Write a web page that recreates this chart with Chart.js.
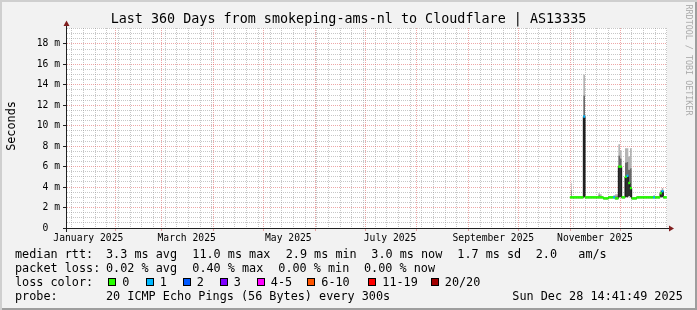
<!DOCTYPE html>
<html>
<head>
<meta charset="utf-8">
<script src="https://cdn.jsdelivr.net/npm/chart.js@4.4.0/dist/chart.umd.min.js"></script>
<style>
  html, body { margin: 0; padding: 0; background: #f2f2f2; }
  #graph { position: relative; width: 697px; height: 310px; background: #f2f2f2; overflow: hidden;
           box-shadow: inset 2px 2px 0 #cfcfcf, inset -2px -2px 0 #9e9e9e;
           font-family: 'DejaVu Sans Mono', monospace; color: #000; }
  #graph canvas { position: absolute; left: 0; top: 0; }
  .t { position: absolute; white-space: pre; }
  .title { left: 0; width: 697px; top: 11.4px; text-align: center; font-size: 13.4px; line-height: 16px; }
  .unit { left: -39px; top: 119px; width: 100px; text-align: center; font-size: 11.8px; line-height: 14px; transform: rotate(-90deg); }
  .mark { left: 624px; top: 55px; width: 130px; text-align: center; font-size: 8.4px; line-height: 10px; color: #ababab; transform: rotate(90deg); }
  .lg { font-size: 11.8px; line-height: 14px; }
  .r1 { top: 247.2px; } .r2 { top: 261.2px; } .r3 { top: 275.2px; } .r4 { top: 289.2px; }
  .box { position: absolute; top: 278px; width: 8px; height: 8px; box-sizing: border-box; border: 1px solid #000; }
</style>
</head>
<body>
<div id="graph">
  <canvas id="chart" width="697" height="310"></canvas>
  <div class="t title">Last 360 Days from smokeping-ams-nl to Cloudflare | AS13335</div>
  <div class="t unit">Seconds</div>
  <div class="t mark">RRDTOOL / TOBI OETIKER</div>

  <span class="t lg r1" style="left:15px">median rtt:</span>
  <span class="t lg r1" style="left:106px">3.3 ms avg</span>
  <span class="t lg r1" style="left:192.3px">11.0 ms max</span>
  <span class="t lg r1" style="left:285.7px">2.9 ms min</span>
  <span class="t lg r1" style="left:371.3px">3.0 ms now</span>
  <span class="t lg r1" style="left:457.3px">1.7 ms sd</span>
  <span class="t lg r1" style="left:535.7px">2.0</span>
  <span class="t lg r1" style="left:578.3px">am/s</span>

  <span class="t lg r2" style="left:15px">packet loss:</span>
  <span class="t lg r2" style="left:106px">0.02 % avg</span>
  <span class="t lg r2" style="left:192.3px">0.40 % max</span>
  <span class="t lg r2" style="left:278.3px">0.00 % min</span>
  <span class="t lg r2" style="left:364px">0.00 % now</span>

  <span class="t lg r3" style="left:15px">loss color:</span>
  <div id="lossLegend"></div>

  <span class="t lg r4" style="left:15px">probe:</span>
  <span class="t lg r4" style="left:106px">20 ICMP Echo Pings (56 Bytes) every 300s</span>
  <span class="t lg r4" style="left:512.3px">Sun Dec 28 14:41:49 2025</span>
</div>
<script>
// one value per day, Nov 1 .. Dec 28 2025 (earlier days have no data)
const dates = [
  '2025-11-01','2025-11-02','2025-11-03','2025-11-04','2025-11-05','2025-11-06','2025-11-07','2025-11-08','2025-11-09','2025-11-10',
  '2025-11-11','2025-11-12','2025-11-13','2025-11-14','2025-11-15','2025-11-16','2025-11-17','2025-11-18','2025-11-19','2025-11-20',
  '2025-11-21','2025-11-22','2025-11-23','2025-11-24','2025-11-25','2025-11-26','2025-11-27','2025-11-28','2025-11-29','2025-11-30',
  '2025-12-01','2025-12-02','2025-12-03','2025-12-04','2025-12-05','2025-12-06','2025-12-07','2025-12-08','2025-12-09','2025-12-10',
  '2025-12-11','2025-12-12','2025-12-13','2025-12-14','2025-12-15','2025-12-16','2025-12-17','2025-12-18','2025-12-19','2025-12-20',
  '2025-12-21','2025-12-22','2025-12-23','2025-12-24','2025-12-25','2025-12-26','2025-12-27','2025-12-28'
];
// median rtt in ms
const medianMs = [
  3.0, 3.0, 3.0, 3.0, 3.0, 3.0, 3.0, 3.0, 10.9, 3.0,
  3.0, 3.0, 3.0, 3.0, 3.0, 3.0, 3.0, 3.0, 3.0, 3.0,
  2.9, 2.9, 2.9, 3.0, 3.0, 3.0, 3.0, 2.9, 2.9, 6.0,
  6.0, 3.0, 3.0, 5.0, 5.1, 4.4, 3.9, 2.9, 2.9, 2.9,
  3.0, 3.0, 3.0, 3.0, 3.0, 3.0, 3.0, 3.0, 3.0, 3.0,
  3.0, 3.0, 3.0, 3.0, 3.4, 3.6, 3.0, 3.0
];
// lost pings out of 20
const lossPings = [
  0, 0, 0, 0, 0, 0, 0, 0, 1, 0,
  0, 0, 0, 0, 0, 0, 0, 0, 0, 0,
  0, 0, 0, 0, 0, 0, 1, 0, 0, 0,
  0, 0, 0, 0, 1, 0, 0, 0, 0, 0,
  0, 0, 0, 0, 0, 0, 0, 0, 0, 0,
  1, 0, 0, 0, 0, 1, 0, 0
];
// smoke: lowest and highest ping rtt in ms
const smokeLo = [
  2.9, 2.9, 2.9, 2.9, 2.9, 2.9, 2.9, 2.9, 3.0, 2.9,
  2.9, 2.9, 2.9, 2.9, 2.9, 2.9, 2.9, 2.9, 2.9, 2.9,
  2.8, 2.8, 2.8, 2.9, 2.9, 2.9, 2.9, 2.8, 2.8, 3.0,
  3.0, 2.9, 2.9, 3.0, 3.0, 3.1, 3.0, 2.8, 2.8, 2.8,
  2.9, 2.9, 2.9, 2.9, 2.9, 2.9, 2.9, 2.9, 2.9, 2.9,
  2.9, 2.9, 2.9, 2.9, 3.0, 3.0, 2.9, 2.9
];
const smokeHi = [
  4.4, 3.1, 3.1, 3.1, 3.1, 3.1, 3.1, 3.1, 15.0, 3.1,
  3.1, 3.1, 3.1, 3.1, 3.1, 3.1, 3.1, 3.4, 3.3, 3.1,
  3.0, 3.0, 3.0, 3.1, 3.1, 3.1, 3.2, 3.3, 3.3, 8.2,
  7.6, 3.1, 3.1, 7.8, 7.8, 7.0, 7.8, 3.0, 3.0, 3.0,
  3.1, 3.1, 3.1, 3.1, 3.1, 3.1, 3.1, 3.1, 3.1, 3.1,
  3.2, 3.1, 3.1, 3.1, 3.7, 3.9, 3.1, 3.1
];

// axis
const xRange = ['2025-01-03T04:48', '2025-12-29T04:48'];
const monthStarts = ['2025-02-01','2025-03-01','2025-04-01','2025-05-01','2025-06-01','2025-07-01',
                     '2025-08-01','2025-09-01','2025-10-01','2025-11-01','2025-12-01'];
const firstMonday = '2025-01-06';
const monthLabels = ['January 2025','March 2025','May 2025','July 2025','September 2025','November 2025'];
const monthLabelDates = ['2025-01-16','2025-03-16','2025-05-16','2025-07-16','2025-09-16','2025-11-16'];
const yMax = 19.56;
const yLabelStep = 2;

const lossColors = [[0,'#26ff00','0'],[1,'#00b8ff','1'],[2,'#0059ff','2'],[3,'#7e00ff','3'],
                    [5,'#ff00ff','4-5'],[10,'#ff5500','6-10'],[19,'#ff0000','11-19'],[20,'#a10000','20/20']];

const GRID = 'rgba(143,143,143,0.5)';
const MGRID = 'rgba(222,79,79,0.5)';
const FONT = "'DejaVu Sans Mono', monospace";

function dayOf(s) {
    // days since Jan 1 2025
    return (Date.parse(s + (s.length > 10 ? ':00Z' : 'T00:00:00Z')) - Date.UTC(2025, 0, 1)) / 864e5;
}
function lossColor(n) {
    for (const c of lossColors) if (n <= c[0]) return c[1];
    return lossColors[lossColors.length - 1][1];
}

// loss legend boxes
const boxLeft = [108, 145.5, 182.5, 219.5, 256.5, 307, 368, 430.5];
const legendEl = document.getElementById('lossLegend');
lossColors.forEach((c, i) => {
    const b = document.createElement('div');
    b.className = 'box';
    b.style.left = boxLeft[i] + 'px';
    b.style.background = c[1];
    legendEl.appendChild(b);
    const s = document.createElement('span');
    s.className = 't lg r3';
    s.style.left = (boxLeft[i] + 14.3) + 'px';
    s.textContent = c[2];
    legendEl.appendChild(s);
});

// points sit in the middle of their day
const xs = dates.map(d => dayOf(d) + 0.5);
const pts = arr => arr.map((v, i) => ({ x: xs[i], y: v }));
const smokeMid = medianMs.map((m, i) => m + (smokeHi[i] - m) * 0.5);

const xMin = dayOf(xRange[0]), xMax = dayOf(xRange[1]);
const majorX = monthStarts.map(dayOf);
const labelX = monthLabelDates.map(dayOf);
const minorX = [];
for (let d = dayOf(firstMonday); d < xMax; d += 7) minorX.push(d);
const xTicks = [...new Set([...minorX, ...majorX, ...labelX])].sort((a, b) => a - b);
const yTicks = [];
for (let v = 0; v < yMax; v += 0.5) yTicks.push(v);

const isMajorX = v => majorX.some(m => Math.abs(m - v) < 1e-6);
const labelIdx = v => labelX.findIndex(m => Math.abs(m - v) < 1e-6);
const isMajorY = v => Math.abs(v / yLabelStep - Math.round(v / yLabelStep)) < 1e-6;

const band = (data, fill, color) => ({
    data: pts(data), stepped: 'middle', fill: fill, backgroundColor: color,
    borderWidth: 0, pointRadius: 0, order: 5
});

const frame = {
    id: 'frame',
    beforeDraw(chart) {
        const { ctx, chartArea: a } = chart;
        ctx.save();
        ctx.fillStyle = '#ffffff';
        ctx.fillRect(a.left, a.top, a.right - a.left, a.bottom - a.top);
        ctx.restore();
    },
    afterDatasetsDraw(chart) {
        const { ctx, chartArea: a } = chart;
        ctx.save();
        ctx.fillStyle = '#1f1f1f';
        ctx.fillRect(a.left - 4, a.bottom, a.right - a.left + 6, 1);
        ctx.fillRect(a.left - 1, a.top - 2, 1, a.bottom - a.top + 6);
        ctx.fillStyle = '#801f1f';
        ctx.beginPath();
        ctx.moveTo(a.left - 3.5, a.top - 2);
        ctx.lineTo(a.left + 2.5, a.top - 2);
        ctx.lineTo(a.left - 0.5, a.top - 7.5);
        ctx.closePath(); ctx.fill();
        ctx.beginPath();
        ctx.moveTo(a.right + 2, a.bottom - 2.5);
        ctx.lineTo(a.right + 2, a.bottom + 3.5);
        ctx.lineTo(a.right + 7, a.bottom + 0.5);
        ctx.closePath(); ctx.fill();
        ctx.restore();
    }
};

new Chart(document.getElementById('chart'), {
    type: 'line',
    data: {
        datasets: [
            band(smokeLo, false, 'transparent'),
            band(medianMs, '-1', '#2e2e2e'),
            band(smokeMid, '-1', '#6a6a6a'),
            band(smokeHi, '-1', '#b4b4b4'),
            { data: pts(medianMs), stepped: 'middle', borderColor: '#111', borderWidth: 1,
              pointRadius: 0, fill: false, order: 1 },
            { data: pts(medianMs), showLine: false, pointStyle: 'line', pointRadius: 1,
              pointBorderWidth: 2.4, pointBorderColor: lossPings.map(lossColor), order: 0 }
        ]
    },
    options: {
        responsive: false,
        animation: false,
        devicePixelRatio: 1,
        layout: { padding: { left: 0, right: 30, top: 28, bottom: 62 } },
        plugins: {
            legend: { display: false },
            title: { display: false },
            tooltip: { enabled: false },
            filler: { drawTime: 'beforeDatasetsDraw' }
        },
        scales: {
            x: {
                type: 'linear', min: xMin, max: xMax,
                afterFit: s => { s.height = 20; },
                afterBuildTicks: s => { s.ticks = xTicks.map(v => ({ value: v })); },
                grid: {
                    color: c => isMajorX(c.tick.value) ? MGRID : (labelIdx(c.tick.value) >= 0 ? 'transparent' : GRID),
                    tickColor: c => isMajorX(c.tick.value) ? MGRID : 'transparent',
                    tickLength: 3, lineWidth: 1
                },
                border: { display: false, dash: [1, 1] },
                ticks: {
                    autoSkip: false, maxRotation: 0, minRotation: 0, padding: 2,
                    color: '#000', font: { family: FONT, size: 9.7 },
                    callback: v => { const i = labelIdx(v); return i >= 0 ? monthLabels[i] : ''; }
                }
            },
            y: {
                min: 0, max: yMax,
                afterFit: s => { s.width = 67; },
                afterBuildTicks: s => { s.ticks = yTicks.map(v => ({ value: v })); },
                grid: {
                    color: c => isMajorY(c.tick.value) ? MGRID : GRID,
                    tickColor: c => isMajorY(c.tick.value) ? '#1f1f1f' : 'transparent',
                    tickLength: 4, lineWidth: 1
                },
                border: { display: false, dash: [1, 1] },
                ticks: {
                    autoSkip: false, padding: 3, color: '#000', font: { family: FONT, size: 9.7 },
                    callback: v => isMajorY(v) ? (v === 0 ? '0  ' : v + ' m') : ''
                }
            }
        }
    },
    plugins: [frame]
});
</script>
</body>
</html>
